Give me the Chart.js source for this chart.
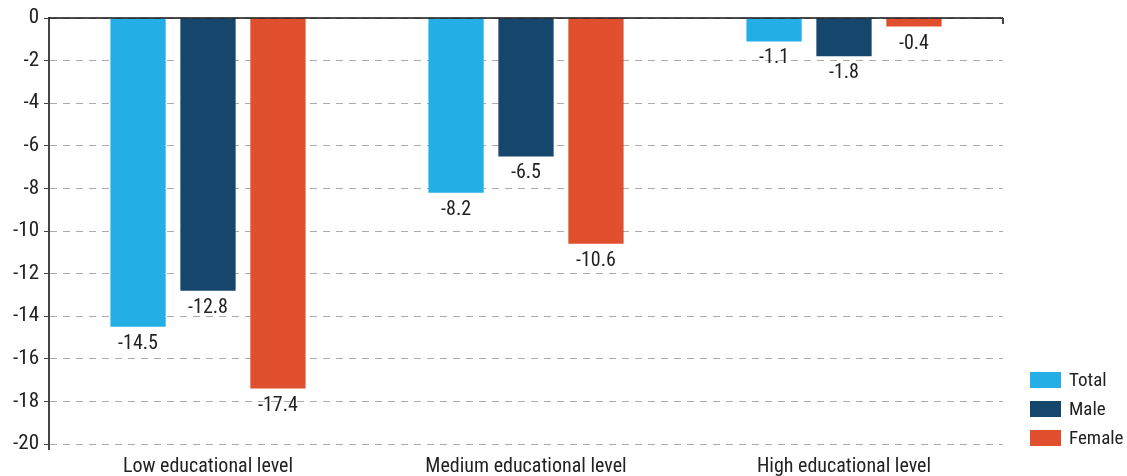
<!DOCTYPE html>
<html>
<head>
<meta charset="utf-8">
<script src="https://cdn.jsdelivr.net/npm/chart.js@4.4.1/dist/chart.umd.min.js"></script>
<style>
  html, body { margin: 0; padding: 0; background: #fff; }
  #wrap { width: 1127px; height: 476px; position: relative; }
</style>
</head>
<body>
<div id="wrap"><canvas id="c"></canvas></div>
<script>
// Change by educational level, in percentage points
const categories = ['Low educational level', 'Medium educational level', 'High educational level'];
const seriesNames = ['Total', 'Male', 'Female'];
const seriesColors = ['#23AFE5', '#14476B', '#E1502E'];
const totalValues = [-14.5, -8.2, -1.1];
const maleValues = [-12.8, -6.5, -1.8];
const femaleValues = [-17.4, -10.6, -0.4];
const yTicks = [0, -2, -4, -6, -8, -10, -12, -14, -16, -18, -20];

const FONT = "'Roboto Condensed', 'Arial Narrow', Roboto, sans-serif";
const TEXT = '#222';
const AXIS = '#444';

// Value labels under each bar, the zero baseline, axis end ticks and the legend
const decorations = {
  id: 'decorations',
  afterDatasetsDraw(chart) {
    const ctx = chart.ctx;
    const area = chart.chartArea;
    ctx.save();
    ctx.font = '20px ' + FONT;
    ctx.fillStyle = TEXT;
    ctx.textAlign = 'center';
    ctx.textBaseline = 'top';
    chart.data.datasets.forEach((ds, di) => {
      const meta = chart.getDatasetMeta(di);
      meta.data.forEach((bar, i) => {
        ctx.fillText(ds.data[i].toFixed(1), bar.x, bar.y + 7);
      });
    });

    // solid baseline at zero with a short tick at its right end
    const y0 = chart.scales.y.getPixelForValue(0);
    ctx.strokeStyle = '#111';
    ctx.lineWidth = 1.5;
    ctx.beginPath();
    ctx.moveTo(area.left, y0);
    ctx.lineTo(area.right, y0);
    ctx.stroke();
    ctx.strokeStyle = AXIS;
    ctx.lineWidth = 2;
    ctx.beginPath();
    ctx.moveTo(area.right, y0);
    ctx.lineTo(area.right, y0 + 6);
    ctx.stroke();

    // vertical axis runs a little past the last gridline
    ctx.beginPath();
    ctx.moveTo(area.left, area.bottom);
    ctx.lineTo(area.left, area.bottom + 6);
    ctx.stroke();

    // legend, stacked in the lower right corner
    const boxW = 31, boxH = 16, rowH = 29;
    const lx = area.right + 27;
    ctx.font = '19px ' + FONT;
    ctx.textAlign = 'left';
    ctx.textBaseline = 'middle';
    chart.data.datasets.forEach((ds, di) => {
      const n = chart.data.datasets.length;
      const cy = area.bottom - 6 - (n - 1 - di) * rowH;
      ctx.fillStyle = ds.backgroundColor;
      ctx.fillRect(lx, cy - boxH / 2, boxW, boxH);
      ctx.fillStyle = TEXT;
      ctx.fillText(ds.label, lx + boxW + 8, cy + 1);
    });
    ctx.restore();
  }
};

new Chart(document.getElementById('c'), {
  type: 'bar',
  data: {
    labels: categories,
    datasets: [
      { label: seriesNames[0], data: totalValues, backgroundColor: seriesColors[0] },
      { label: seriesNames[1], data: maleValues, backgroundColor: seriesColors[1] },
      { label: seriesNames[2], data: femaleValues, backgroundColor: seriesColors[2] }
    ]
  },
  options: {
    responsive: true,
    maintainAspectRatio: false,
    animation: false,
    devicePixelRatio: 1,
    layout: { padding: { top: 18, right: 124, bottom: 0, left: 0 } },
    datasets: { bar: { categoryPercentage: 0.66, barPercentage: 0.79 } },
    plugins: {
      legend: { display: false },
      tooltip: { enabled: false }
    },
    scales: {
      x: {
        grid: { display: false },
        border: { display: false },
        ticks: { color: TEXT, font: { family: FONT, size: 20 }, padding: 3 },
        afterFit(scale) { scale.height = 32; }
      },
      y: {
        min: -20,
        max: 0,
        afterBuildTicks(scale) { scale.ticks = yTicks.map(v => ({ value: v })); },
        afterFit(scale) { scale.width = 49; },
        grid: {
          color: '#ababab',
          lineWidth: 1,
          drawTicks: true,
          tickLength: 5,
          tickColor: AXIS
        },
        border: { display: true, color: AXIS, width: 2, dash: [7, 6] },
        ticks: { color: TEXT, font: { family: FONT, size: 21 }, padding: 5 }
      }
    }
  },
  plugins: [decorations]
});
</script>
</body>
</html>
